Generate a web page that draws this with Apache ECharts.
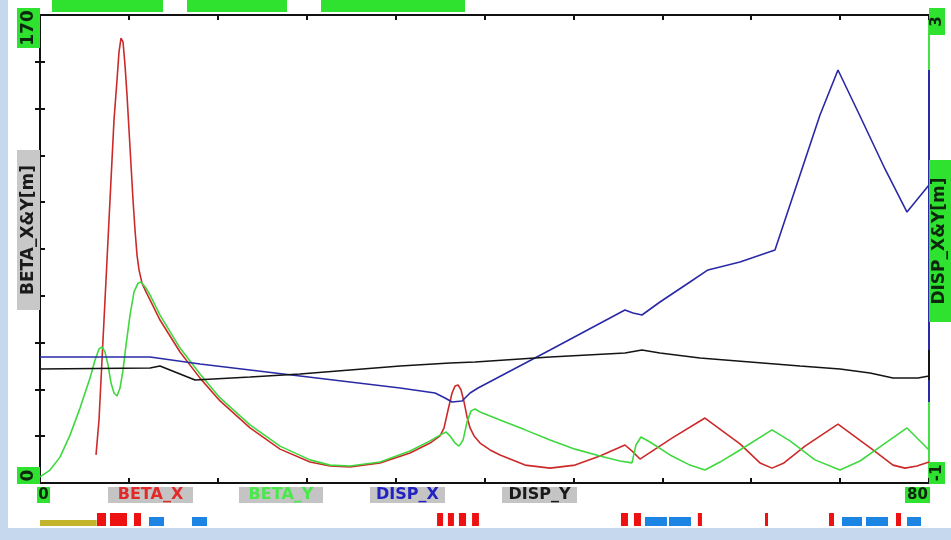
<!DOCTYPE html>
<html>
<head>
<meta charset="utf-8">
<script src="https://cdn.jsdelivr.net/npm/echarts/dist/echarts.min.js"></script>
<style>
  html, body { margin: 0; padding: 0; background: #ffffff; }
  #chart { width: 951px; height: 540px; }
</style>
</head>
<body>
<div id="chart"></div>
<script>
// Lattice functions along the beam line: s [m] vs value
const seriesNames = ['BETA_X', 'BETA_Y', 'DISP_X', 'DISP_Y'];

const betaX = [
  [5.04, 10.2], [5.31, 22.9], [5.58, 44.7], [5.85, 66.5], [6.12, 88.3], [6.39, 110.1],
  [6.66, 131.9], [6.93, 146.4], [7.11, 156.6], [7.29, 161.6], [7.47, 160.2], [7.65, 151.8],
  [7.83, 140.9], [8.01, 128.2], [8.19, 115.5], [8.37, 102.8], [8.55, 91.9], [8.73, 82.8],
  [8.91, 77.4], [9.18, 72.6], [9.54, 69.4], [9.90, 66.5], [10.80, 59.2], [12.60, 47.6],
  [14.40, 38.1], [16.20, 29.8], [18.90, 20.0], [21.60, 12.3], [24.30, 7.6], [26.10, 6.2],
  [27.90, 5.8], [30.60, 7.3], [33.30, 10.9], [35.10, 14.5], [36.00, 17.1], [36.36, 20.0],
  [36.72, 26.5], [37.08, 32.7], [37.35, 35.2], [37.62, 35.6], [37.89, 33.8], [38.16, 29.4],
  [38.43, 24.0], [38.70, 20.0], [39.06, 17.1], [39.60, 14.5], [40.50, 12.0], [41.40, 10.2],
  [43.65, 6.5], [45.90, 5.4], [48.15, 6.5], [50.39, 9.8], [52.64, 13.8], [53.36, 11.3],
  [53.99, 8.7], [56.87, 16.3], [59.84, 23.6], [62.99, 14.2], [64.79, 7.3], [65.87, 5.4],
  [66.95, 7.3], [68.84, 13.4], [71.81, 21.4], [74.87, 12.3], [76.76, 6.5], [77.84, 5.4],
  [78.92, 6.2], [80.00, 7.6]
];

const betaY = [
  [0, 2.2], [0.90, 4.7], [1.80, 9.4], [2.70, 17.4], [3.60, 27.2], [4.50, 38.1], [4.95, 44.7],
  [5.31, 48.7], [5.58, 49.4], [5.85, 47.6], [6.12, 42.9], [6.39, 36.3], [6.66, 32.7],
  [6.93, 31.6], [7.20, 34.5], [7.47, 41.0], [7.74, 50.1], [8.10, 61.0], [8.46, 69.4],
  [8.82, 72.6], [9.09, 73.0], [9.54, 70.8], [9.90, 68.3], [10.80, 61.0], [12.60, 49.0],
  [14.40, 39.6], [16.20, 30.9], [18.90, 21.1], [21.60, 13.4], [24.30, 8.4], [26.10, 6.5],
  [27.90, 6.2], [30.60, 7.6], [33.30, 11.6], [35.10, 15.3], [36.00, 17.4], [36.54, 18.5],
  [36.90, 17.1], [37.35, 14.5], [37.71, 13.4], [38.07, 15.6], [38.43, 22.2], [38.79, 26.2],
  [39.15, 26.9], [39.60, 25.8], [41.40, 22.9], [43.65, 19.3], [45.90, 15.6], [48.15, 12.3],
  [50.39, 9.8], [52.19, 8.0], [53.27, 7.3], [53.63, 13.8], [54.08, 16.7], [54.89, 14.9],
  [56.69, 10.2], [58.49, 6.5], [59.84, 4.7], [61.19, 7.6], [62.99, 12.0], [65.87, 19.3],
  [67.49, 15.3], [69.74, 8.4], [71.99, 4.7], [73.79, 8.0], [75.59, 13.1], [78.02, 20.0],
  [80.00, 12.0]
];

const dispX = [
  [0, 0.077], [9.90, 0.077], [14.40, 0.017], [18.90, -0.034], [23.40, -0.085], [27.90, -0.137],
  [32.40, -0.188], [35.55, -0.231], [36.45, -0.274], [37.08, -0.308], [37.98, -0.299],
  [38.70, -0.231], [39.42, -0.188], [45.90, 0.137], [52.64, 0.479], [53.36, 0.453],
  [54.17, 0.436], [55.79, 0.547], [58.49, 0.718], [60.11, 0.821], [62.99, 0.889],
  [66.14, 0.991], [68.39, 1.632], [70.19, 2.145], [71.81, 2.530], [73.79, 2.137],
  [76.04, 1.684], [78.02, 1.316], [80.00, 1.547]
];

const dispY = [
  [0, -0.026], [9.90, -0.017], [10.80, 0.000], [12.15, -0.051], [13.95, -0.120],
  [18.90, -0.094], [23.40, -0.068], [27.90, -0.034], [32.40, 0.000], [36.90, 0.026],
  [39.15, 0.034], [45.90, 0.077], [52.64, 0.111], [54.17, 0.137], [55.79, 0.111],
  [59.39, 0.068], [63.89, 0.034], [68.39, 0.000], [71.99, -0.026], [74.69, -0.060],
  [76.76, -0.103], [79.01, -0.103], [80.00, -0.085]
];

// Element layout strip: [start s, end s]
const solenoids = [[0, 5.1]];
const bends = [
  [5.13, 5.94], [6.30, 7.83], [8.46, 9.09], [35.73, 36.27], [36.71, 37.25], [37.70, 38.34],
  [38.88, 39.50], [52.28, 52.91], [53.45, 54.08], [59.20, 59.57], [65.24, 65.50],
  [71.00, 71.45], [77.03, 77.48]
];
const quads = [
  [9.81, 11.16], [13.68, 15.03], [54.44, 56.42], [56.60, 58.58], [72.17, 73.97],
  [74.33, 76.31], [78.02, 79.28]
];

// Axis end labels
const sTicks = [0, 80];
const betaTicks = [0, 170];
const dispTicks = [-1, 3];

const COLORS = ['#cc2a2a', '#3fd83f', '#2a2aa6', '#141414'];
const LABEL_COLORS = ['#e22a2a', '#4ae84a', '#2222c4', '#1a1a1a'];
const BOX_GREEN = '#2fe22f';
const FONT = '"DejaVu Sans", "Liberation Sans", sans-serif';

const chart = echarts.init(document.getElementById('chart'));

function elementSeries(name, data, color, h) {
  return {
    name: name,
    type: 'custom',
    xAxisIndex: 2,
    yAxisIndex: 2,
    data: data,
    silent: true,
    renderItem: function (params, api) {
      const p0 = api.coord([api.value(0), 0]);
      const p1 = api.coord([api.value(1), 0]);
      return {
        type: 'rect',
        shape: { x: p0[0], y: p0[1] - h, width: Math.max(3, p1[0] - p0[0]), height: h },
        style: { fill: color }
      };
    }
  };
}

function lineSeries(i, data, yIdx) {
  return {
    name: seriesNames[i],
    type: 'line',
    xAxisIndex: 0,
    yAxisIndex: yIdx,
    data: data,
    showSymbol: false,
    lineStyle: { color: COLORS[i], width: 1.6 },
    z: 3 + i
  };
}

function rangeMarker(data, color) {
  const vals = data.map(function (d) { return d[1]; });
  return {
    type: 'line',
    xAxisIndex: 0,
    yAxisIndex: 1,
    clip: false,
    silent: true,
    showSymbol: false,
    data: [[sTicks[1], Math.min.apply(null, vals)], [sTicks[1], Math.max.apply(null, vals)]],
    lineStyle: { color: color, width: 2 },
    z: 8
  };
}

const sAxisCommon = {
  gridIndex: 0,
  type: 'value',
  min: sTicks[0],
  max: sTicks[1],
  interval: 8,
  axisLine: { show: true, onZero: false, lineStyle: { color: '#111', width: 2 } },
  axisTick: { show: true, inside: true, length: 5, lineStyle: { color: '#111', width: 2 } },
  axisLabel: { show: false },
  splitLine: { show: false }
};

const option = {
  animation: false,
  backgroundColor: '#ffffff',
  grid: [
    { left: 40, right: 22, top: 15, bottom: 57 },
    { left: 40, right: 22, top: 500, height: 26 }
  ],
  xAxis: [
    Object.assign({}, sAxisCommon, { position: 'bottom' }),
    Object.assign({}, sAxisCommon, { position: 'top' }),
    { gridIndex: 1, type: 'value', min: 0, max: 80, show: false }
  ],
  yAxis: [
    {
      gridIndex: 0, type: 'value', position: 'left',
      min: betaTicks[0], max: betaTicks[1], interval: 17,
      axisLine: { show: true, onZero: false, lineStyle: { color: '#111', width: 2 } },
      axisTick: { show: true, inside: true, length: 5, lineStyle: { color: '#111', width: 2 } },
      axisLabel: { show: false }, splitLine: { show: false }
    },
    {
      gridIndex: 0, type: 'value', position: 'right',
      min: dispTicks[0], max: dispTicks[1],
      axisLine: { show: true, onZero: false, lineStyle: { color: '#44e044', width: 2 } },
      axisTick: { show: false }, axisLabel: { show: false }, splitLine: { show: false }
    },
    { gridIndex: 1, type: 'value', min: 0, max: 1, show: false },
    {
      // tick marks on the right edge, sharing the left scale divisions
      gridIndex: 0, type: 'value', position: 'right',
      min: betaTicks[0], max: betaTicks[1], interval: 17,
      axisLine: { show: false },
      axisTick: { show: true, inside: true, length: 5, lineStyle: { color: '#111', width: 2 } },
      axisLabel: { show: false }, splitLine: { show: false }
    }
  ],
  series: [
    lineSeries(0, betaX, 0),
    lineSeries(1, betaY, 0),
    lineSeries(2, dispX, 1),
    lineSeries(3, dispY, 1),
    rangeMarker(dispX, COLORS[2]),
    rangeMarker(dispY, COLORS[3]),
    elementSeries('solenoid', solenoids, '#c4b42c', 6),
    elementSeries('bend', bends, '#ee1111', 13),
    elementSeries('quad', quads, '#1c84e2', 9)
  ]
};

chart.setOption(option);

function labelBox(x, y, w, h, fill, text, color, size, vertical) {
  return [
    { type: 'rect', z: 20, shape: { x: x, y: y, width: w, height: h }, style: { fill: fill } },
    {
      type: 'text', z: 21,
      x: x + w / 2, y: y + h / 2,
      rotation: vertical ? Math.PI / 2 : 0,
      style: {
        text: String(text), fill: color,
        font: 'bold ' + size + 'px ' + FONT,
        align: 'center', verticalAlign: 'middle'
      }
    }
  ];
}

function buildGraphics() {
  const xl = chart.convertToPixel({ xAxisIndex: 0 }, sTicks[0]);
  const xr = chart.convertToPixel({ xAxisIndex: 0 }, sTicks[1]);
  const yt = chart.convertToPixel({ yAxisIndex: 0 }, betaTicks[1]);
  const yb = chart.convertToPixel({ yAxisIndex: 0 }, betaTicks[0]);
  const dark = '#0e260e';
  let g = [
    { type: 'rect', z: -10, shape: { x: 0, y: 0, width: 8, height: 540 }, style: { fill: '#c6d8ee' } },
    { type: 'rect', z: -10, shape: { x: 0, y: 528, width: 951, height: 12 }, style: { fill: '#c6d8ee' } },
    // status boxes along the top edge
    { type: 'rect', z: 20, shape: { x: 52, y: 0, width: 111, height: 12 }, style: { fill: BOX_GREEN } },
    { type: 'rect', z: 20, shape: { x: 187, y: 0, width: 100, height: 12 }, style: { fill: BOX_GREEN } },
    { type: 'rect', z: 20, shape: { x: 321, y: 0, width: 144, height: 12 }, style: { fill: BOX_GREEN } }
  ];
  // axis end values
  g = g.concat(labelBox(xl - 23, yt - 7, 23, 40, BOX_GREEN, betaTicks[1], dark, 17, true));
  g = g.concat(labelBox(xl - 23, yb - 16, 23, 17, BOX_GREEN, betaTicks[0], dark, 17, true));
  g = g.concat(labelBox(xr, yt - 7, 16, 27, BOX_GREEN, dispTicks[1], dark, 15, true));
  g = g.concat(labelBox(xr, yb - 21, 16, 22, BOX_GREEN, dispTicks[0], dark, 15, true));
  g = g.concat(labelBox(xl - 3, yb + 4, 13, 16, BOX_GREEN, sTicks[0], dark, 15, false));
  g = g.concat(labelBox(xr - 24, yb + 4, 25, 16, BOX_GREEN, sTicks[1], dark, 15, false));
  // axis titles
  g = g.concat(labelBox(xl - 23, 150, 23, 160, '#c8c8c8', 'BETA_X&Y[m]', '#1a1a1a', 17, true));
  g = g.concat(labelBox(xr, 160, 22, 162, BOX_GREEN, 'DISP_X&Y[m]', dark, 17, true));
  // series keys under the plot
  const keyPos = [[108, 85], [239, 84], [370, 75], [502, 75]];
  seriesNames.forEach(function (n, i) {
    g = g.concat(labelBox(keyPos[i][0], yb + 4, keyPos[i][1], 16, '#c4c4c4', n, LABEL_COLORS[i], 16, false));
  });
  chart.setOption({ graphic: g });
}

buildGraphics();
</script>
</body>
</html>
